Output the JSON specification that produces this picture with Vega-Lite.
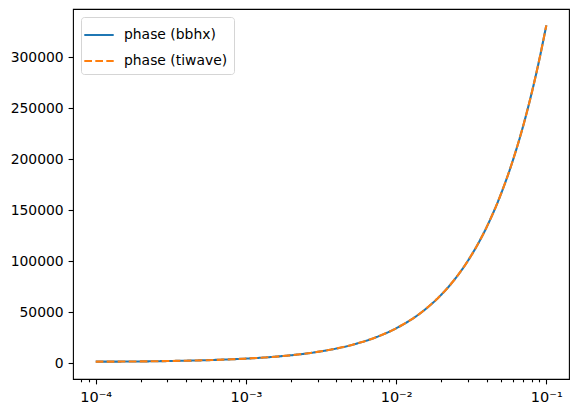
{
  "$schema": "https://vega.github.io/schema/vega-lite/v6.json",
  "width": 496,
  "height": 370,
  "autosize": {"type": "none"},
  "padding": {"left": 73, "top": 9, "right": 9, "bottom": 38},
  "background": "white",
  "config": {
    "view": {"stroke": "black", "strokeWidth": 1.1},
    "font": "DejaVu Sans",
    "axis": {
      "domain": false,
      "grid": false,
      "labelFont": "DejaVu Sans",
      "labelFontSize": 13.9,
      "labelColor": "black",
      "tickColor": "black",
      "tickWidth": 1.1,
      "tickSize": 4.9,
      "labelPadding": 4.9,
      "title": null
    },
    "legend": {
      "labelFont": "DejaVu Sans",
      "labelFontSize": 13.9,
      "labelColor": "black"
    }
  },
  "data": {
    "values": [
      {"f": 0.0001, "phase": 1600, "series": "phase (bbhx)"},
      {"f": 0.00015, "phase": 1700, "series": "phase (bbhx)"},
      {"f": 0.0002, "phase": 1850, "series": "phase (bbhx)"},
      {"f": 0.0003, "phase": 2200, "series": "phase (bbhx)"},
      {"f": 0.0005, "phase": 2900, "series": "phase (bbhx)"},
      {"f": 0.0007, "phase": 3600, "series": "phase (bbhx)"},
      {"f": 0.001, "phase": 4600, "series": "phase (bbhx)"},
      {"f": 0.0015, "phase": 6250, "series": "phase (bbhx)"},
      {"f": 0.002, "phase": 7900, "series": "phase (bbhx)"},
      {"f": 0.003, "phase": 11200, "series": "phase (bbhx)"},
      {"f": 0.005, "phase": 17800, "series": "phase (bbhx)"},
      {"f": 0.007, "phase": 24400, "series": "phase (bbhx)"},
      {"f": 0.01, "phase": 34300, "series": "phase (bbhx)"},
      {"f": 0.015, "phase": 50800, "series": "phase (bbhx)"},
      {"f": 0.02, "phase": 67300, "series": "phase (bbhx)"},
      {"f": 0.025, "phase": 83800, "series": "phase (bbhx)"},
      {"f": 0.03, "phase": 100300, "series": "phase (bbhx)"},
      {"f": 0.04, "phase": 133300, "series": "phase (bbhx)"},
      {"f": 0.05, "phase": 166300, "series": "phase (bbhx)"},
      {"f": 0.06, "phase": 199300, "series": "phase (bbhx)"},
      {"f": 0.07, "phase": 232300, "series": "phase (bbhx)"},
      {"f": 0.08, "phase": 265300, "series": "phase (bbhx)"},
      {"f": 0.09, "phase": 298300, "series": "phase (bbhx)"},
      {"f": 0.1, "phase": 331300, "series": "phase (bbhx)"},
      {"f": 0.0001, "phase": 1600, "series": "phase (tiwave)"},
      {"f": 0.00015, "phase": 1700, "series": "phase (tiwave)"},
      {"f": 0.0002, "phase": 1850, "series": "phase (tiwave)"},
      {"f": 0.0003, "phase": 2200, "series": "phase (tiwave)"},
      {"f": 0.0005, "phase": 2900, "series": "phase (tiwave)"},
      {"f": 0.0007, "phase": 3600, "series": "phase (tiwave)"},
      {"f": 0.001, "phase": 4600, "series": "phase (tiwave)"},
      {"f": 0.0015, "phase": 6250, "series": "phase (tiwave)"},
      {"f": 0.002, "phase": 7900, "series": "phase (tiwave)"},
      {"f": 0.003, "phase": 11200, "series": "phase (tiwave)"},
      {"f": 0.005, "phase": 17800, "series": "phase (tiwave)"},
      {"f": 0.007, "phase": 24400, "series": "phase (tiwave)"},
      {"f": 0.01, "phase": 34300, "series": "phase (tiwave)"},
      {"f": 0.015, "phase": 50800, "series": "phase (tiwave)"},
      {"f": 0.02, "phase": 67300, "series": "phase (tiwave)"},
      {"f": 0.025, "phase": 83800, "series": "phase (tiwave)"},
      {"f": 0.03, "phase": 100300, "series": "phase (tiwave)"},
      {"f": 0.04, "phase": 133300, "series": "phase (tiwave)"},
      {"f": 0.05, "phase": 166300, "series": "phase (tiwave)"},
      {"f": 0.06, "phase": 199300, "series": "phase (tiwave)"},
      {"f": 0.07, "phase": 232300, "series": "phase (tiwave)"},
      {"f": 0.08, "phase": 265300, "series": "phase (tiwave)"},
      {"f": 0.09, "phase": 298300, "series": "phase (tiwave)"},
      {"f": 0.1, "phase": 331300, "series": "phase (tiwave)"}
    ]
  },
  "mark": {"type": "line", "strokeWidth": 2.1, "interpolate": "monotone", "clip": true},
  "encoding": {
    "x": {
      "field": "f",
      "type": "quantitative",
      "scale": {"type": "log", "domain": [0.0000706, 0.1416], "nice": false},
      "axis": {
        "values": [0.00008, 0.00009, 0.0001, 0.0002, 0.0003, 0.0004, 0.0005, 0.0006, 0.0007, 0.0008, 0.0009, 0.001, 0.002, 0.003, 0.004, 0.005, 0.006, 0.007, 0.008, 0.009, 0.01, 0.02, 0.03, 0.04, 0.05, 0.06, 0.07, 0.08, 0.09, 0.1],
        "labelExpr": "datum.value == 0.0001 ? '10⁻⁴' : datum.value == 0.001 ? '10⁻³' : datum.value == 0.01 ? '10⁻²' : datum.value == 0.1 ? '10⁻¹' : ''",
        "tickSize": {"condition": {"test": "datum.value == 0.0001 || datum.value == 0.001 || datum.value == 0.01 || datum.value == 0.1", "value": 4.9}, "value": 2.8},
        "labelPadding": 7,
        "labelFontSize": 14.5,
        "labelFlush": false,
        "labelOverlap": false
      }
    },
    "y": {
      "field": "phase",
      "type": "quantitative",
      "scale": {"domain": [-15390, 347355], "nice": false, "zero": false},
      "axis": {
        "values": [0, 50000, 100000, 150000, 200000, 250000, 300000],
        "format": "d"
      }
    },
    "color": {
      "field": "series",
      "type": "nominal",
      "scale": {"domain": ["phase (bbhx)", "phase (tiwave)"], "range": ["#1f77b4", "#ff7f0e"]},
      "legend": {
        "title": null,
        "orient": "top-left",
        "offset": 8,
        "padding": 6,
        "rowPadding": 7,
        "symbolType": "M-1.4,0H1.4",
        "symbolSize": 441,
        "symbolStrokeWidth": 2.1,
        "symbolFillColor": "transparent",
        "labelOffset": 13,
        "strokeColor": "#d5d5d5",
        "fillColor": "white",
        "cornerRadius": 3
      }
    },
    "strokeDash": {
      "field": "series",
      "type": "nominal",
      "scale": {"domain": ["phase (bbhx)", "phase (tiwave)"], "range": [[1, 0], [7.7, 3.3]]},
      "legend": {"title": null}
    }
  }
}
